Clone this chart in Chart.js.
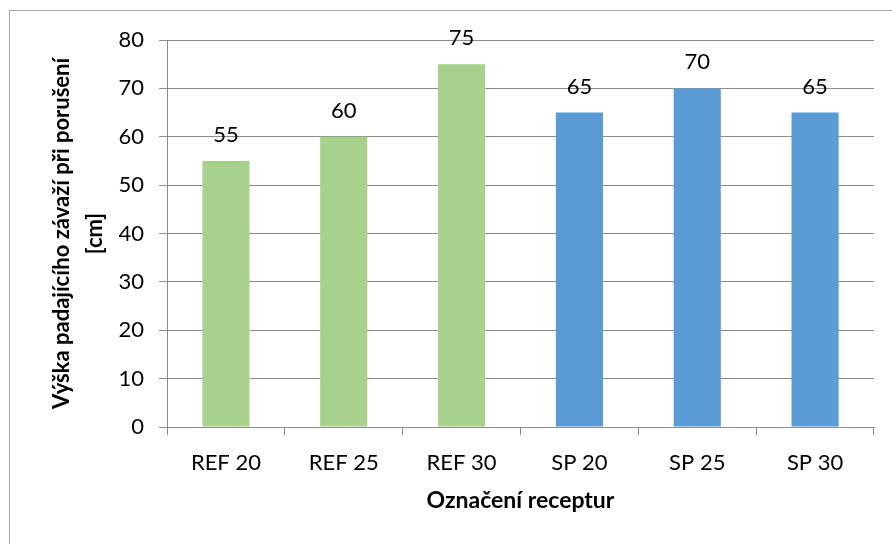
<!DOCTYPE html>
<html>
<head>
<meta charset="utf-8">
<script src="https://cdn.jsdelivr.net/npm/chart.js@4"></script>
<style>
  html, body { margin: 0; padding: 0; background: #fff; }
  #chart { display: block; }
</style>
</head>
<body>
<canvas id="chart" width="892" height="544"></canvas>
<script>
// Data
const categories = ["REF 20", "REF 25", "REF 30", "SP 20", "SP 25", "SP 30"];
const heights = [55, 60, 75, 65, 70, 65];
const yTicks = [0, 10, 20, 30, 40, 50, 60, 70, 80];

// Styles
const barColors = ["#a9d18e", "#a9d18e", "#a9d18e", "#5b9bd5", "#5b9bd5", "#5b9bd5"];
const gridColor = "#8c8c8c";
const fontFamily = "Lato, 'Open Sans', sans-serif";

// Light frame around the whole chart
const framePlugin = {
  id: "frame",
  beforeDraw(chart) {
    const ctx = chart.ctx;
    ctx.save();
    ctx.fillStyle = "#fff";
    ctx.fillRect(0, 0, chart.width, chart.height);
    ctx.strokeStyle = "#a6a6a6";
    ctx.lineWidth = 1;
    ctx.strokeRect(9.5, 10.5, 1000, 1000);
    ctx.restore();
  }
};

// Value labels above bars
const valueLabels = {
  id: "valueLabels",
  afterDatasetsDraw(chart) {
    const ctx = chart.ctx;
    const meta = chart.getDatasetMeta(0);
    ctx.save();
    ctx.font = "22px " + fontFamily;
    ctx.fillStyle = "#000";
    ctx.textAlign = "center";
    ctx.textBaseline = "middle";
    meta.data.forEach((bar, i) => {
      ctx.fillText(String(heights[i]), bar.x, bar.y - 26);
    });
    ctx.restore();
  }
};

new Chart(document.getElementById("chart"), {
  type: "bar",
  data: {
    labels: categories,
    datasets: [{
      data: heights,
      backgroundColor: barColors,
      borderWidth: 0,
      barPercentage: 0.4,
      categoryPercentage: 1
    }]
  },
  options: {
    responsive: false,
    animation: false,
    layout: { padding: { left: 10, top: 40, right: 18, bottom: 0 } },
    plugins: {
      legend: { display: false },
      tooltip: { enabled: false }
    },
    scales: {
      x: {
        afterFit(scale) { scale.height = 117; },
        grid: {
          offset: true,
          drawOnChartArea: false,
          drawTicks: true,
          tickLength: 8,
          color: gridColor
        },
        border: { color: gridColor },
        ticks: {
          color: "#000",
          padding: 15,
          font: { family: fontFamily, size: 22 }
        },
        title: {
          display: true,
          text: "Označení receptur",
          color: "#000",
          font: { family: fontFamily, size: 23, weight: "bold" },
          padding: { top: 0, bottom: 30 }
        }
      },
      y: {
        min: 0,
        max: 80,
        afterFit(scale) { scale.width = 157; },
        afterBuildTicks(scale) {
          scale.ticks = yTicks.map(v => ({ value: v }));
        },
        grid: {
          color: gridColor,
          drawTicks: true,
          tickLength: 8
        },
        border: { color: gridColor },
        ticks: {
          color: "#000",
          padding: 15,
          font: { family: fontFamily, size: 22 }
        },
        title: {
          display: true,
          text: ["Výška padajícího závaží při porušení", "[cm]"],
          color: "#000",
          font: { family: fontFamily, size: 22, weight: "bold", lineHeight: "33px" },
          padding: { top: 35, bottom: 0 }
        }
      }
    }
  },
  plugins: [framePlugin, valueLabels]
});
</script>
</body>
</html>
